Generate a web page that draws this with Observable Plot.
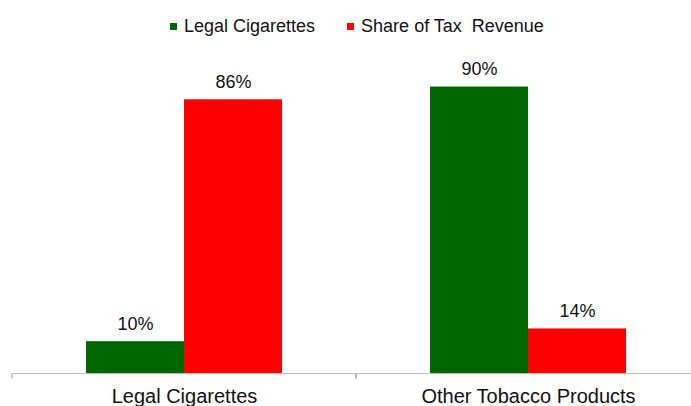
<!DOCTYPE html>
<html><head><meta charset="utf-8">
<script src="https://cdn.jsdelivr.net/npm/d3@7"></script>
<script src="https://cdn.jsdelivr.net/npm/@observablehq/plot@0.6"></script>
<style>
html,body{margin:0;padding:0;background:#fff;overflow:hidden;}
#wrap{width:691px;height:406px;overflow:hidden;position:relative;font-family:"Liberation Sans",Arial,sans-serif;color:#111;}
#legend{height:40px;box-sizing:border-box;padding-top:12.5px;padding-left:170px;display:flex;align-items:center;font-size:18px;line-height:18px;white-space:pre;}
.item{display:flex;align-items:center;margin-right:32px;}
.sw{width:7px;height:7px;margin-right:7px;flex:none;}
#chart{width:700px;}
#chart svg{display:block;max-width:none !important;width:700px;height:366px;}
</style>
</head><body>
<div id="wrap"><div id="legend"></div><div id="chart"></div></div>
<script>
const groups = ["Legal Cigarettes", "Other Tobacco Products"];
const series = ["Legal Cigarettes", "Share of Tax  Revenue"];
const legalCigarettes = [10, 90];
const shareOfTaxRevenue = [86, 14];
const colors = ["#006600", "#ff0000"];

const data = groups.flatMap((g, i) => [
  {group: g, series: series[0], value: legalCigarettes[i]},
  {group: g, series: series[1], value: shareOfTaxRevenue[i]}
]);

const legend = document.getElementById("legend");
series.forEach((s, i) => {
  const item = document.createElement("div");
  item.className = "item";
  const sw = document.createElement("span");
  sw.className = "sw";
  sw.style.background = colors[i];
  const t = document.createElement("span");
  t.textContent = s;
  item.appendChild(sw); item.appendChild(t);
  legend.appendChild(item);
});

const chart = Plot.plot({
  width: 700, height: 366,
  marginLeft: 12, marginRight: 0, marginTop: 14.7, marginBottom: 33,
  style: {fontFamily: "'Liberation Sans', Arial, sans-serif", fontSize: "20px", color: "#111", background: "white", overflow: "visible", maxWidth: "none"},
  fx: {domain: groups, padding: 0, label: null, axis: "bottom", tickSize: 0, tickPadding: 15},
  x: {domain: series, axis: null, paddingInner: 0, paddingOuter: 0.755},
  y: {domain: [0, 100], axis: null},
  color: {domain: series, range: colors},
  marks: [
    Plot.barY(data, {fx: "group", x: "series", y: "value", fill: "series"}),
    Plot.ruleY([0], {stroke: "#bfbfbf", strokeWidth: 1}),
    Plot.text(data, {fx: "group", x: "series", y: "value", text: d => d.value + "%", lineAnchor: "bottom", dy: -12, fontSize: 18, fill: "#111"})
  ]
});
document.getElementById("chart").appendChild(chart);

// small tick marks at the category boundaries, placed at the ends of the baseline rule
d3.select(chart).selectAll('g[aria-label="rule"] line').each(function() {
  const ln = d3.select(this);
  const parent = d3.select(this.parentNode);
  const y = +ln.attr("y1");
  [+ln.attr("x1"), +ln.attr("x2")].forEach(x => {
    parent.append("line").attr("x1", x).attr("x2", x).attr("y1", y).attr("y2", y + 5)
      .attr("stroke", "#999").attr("stroke-width", 1);
  });
});
</script>
</body></html>
